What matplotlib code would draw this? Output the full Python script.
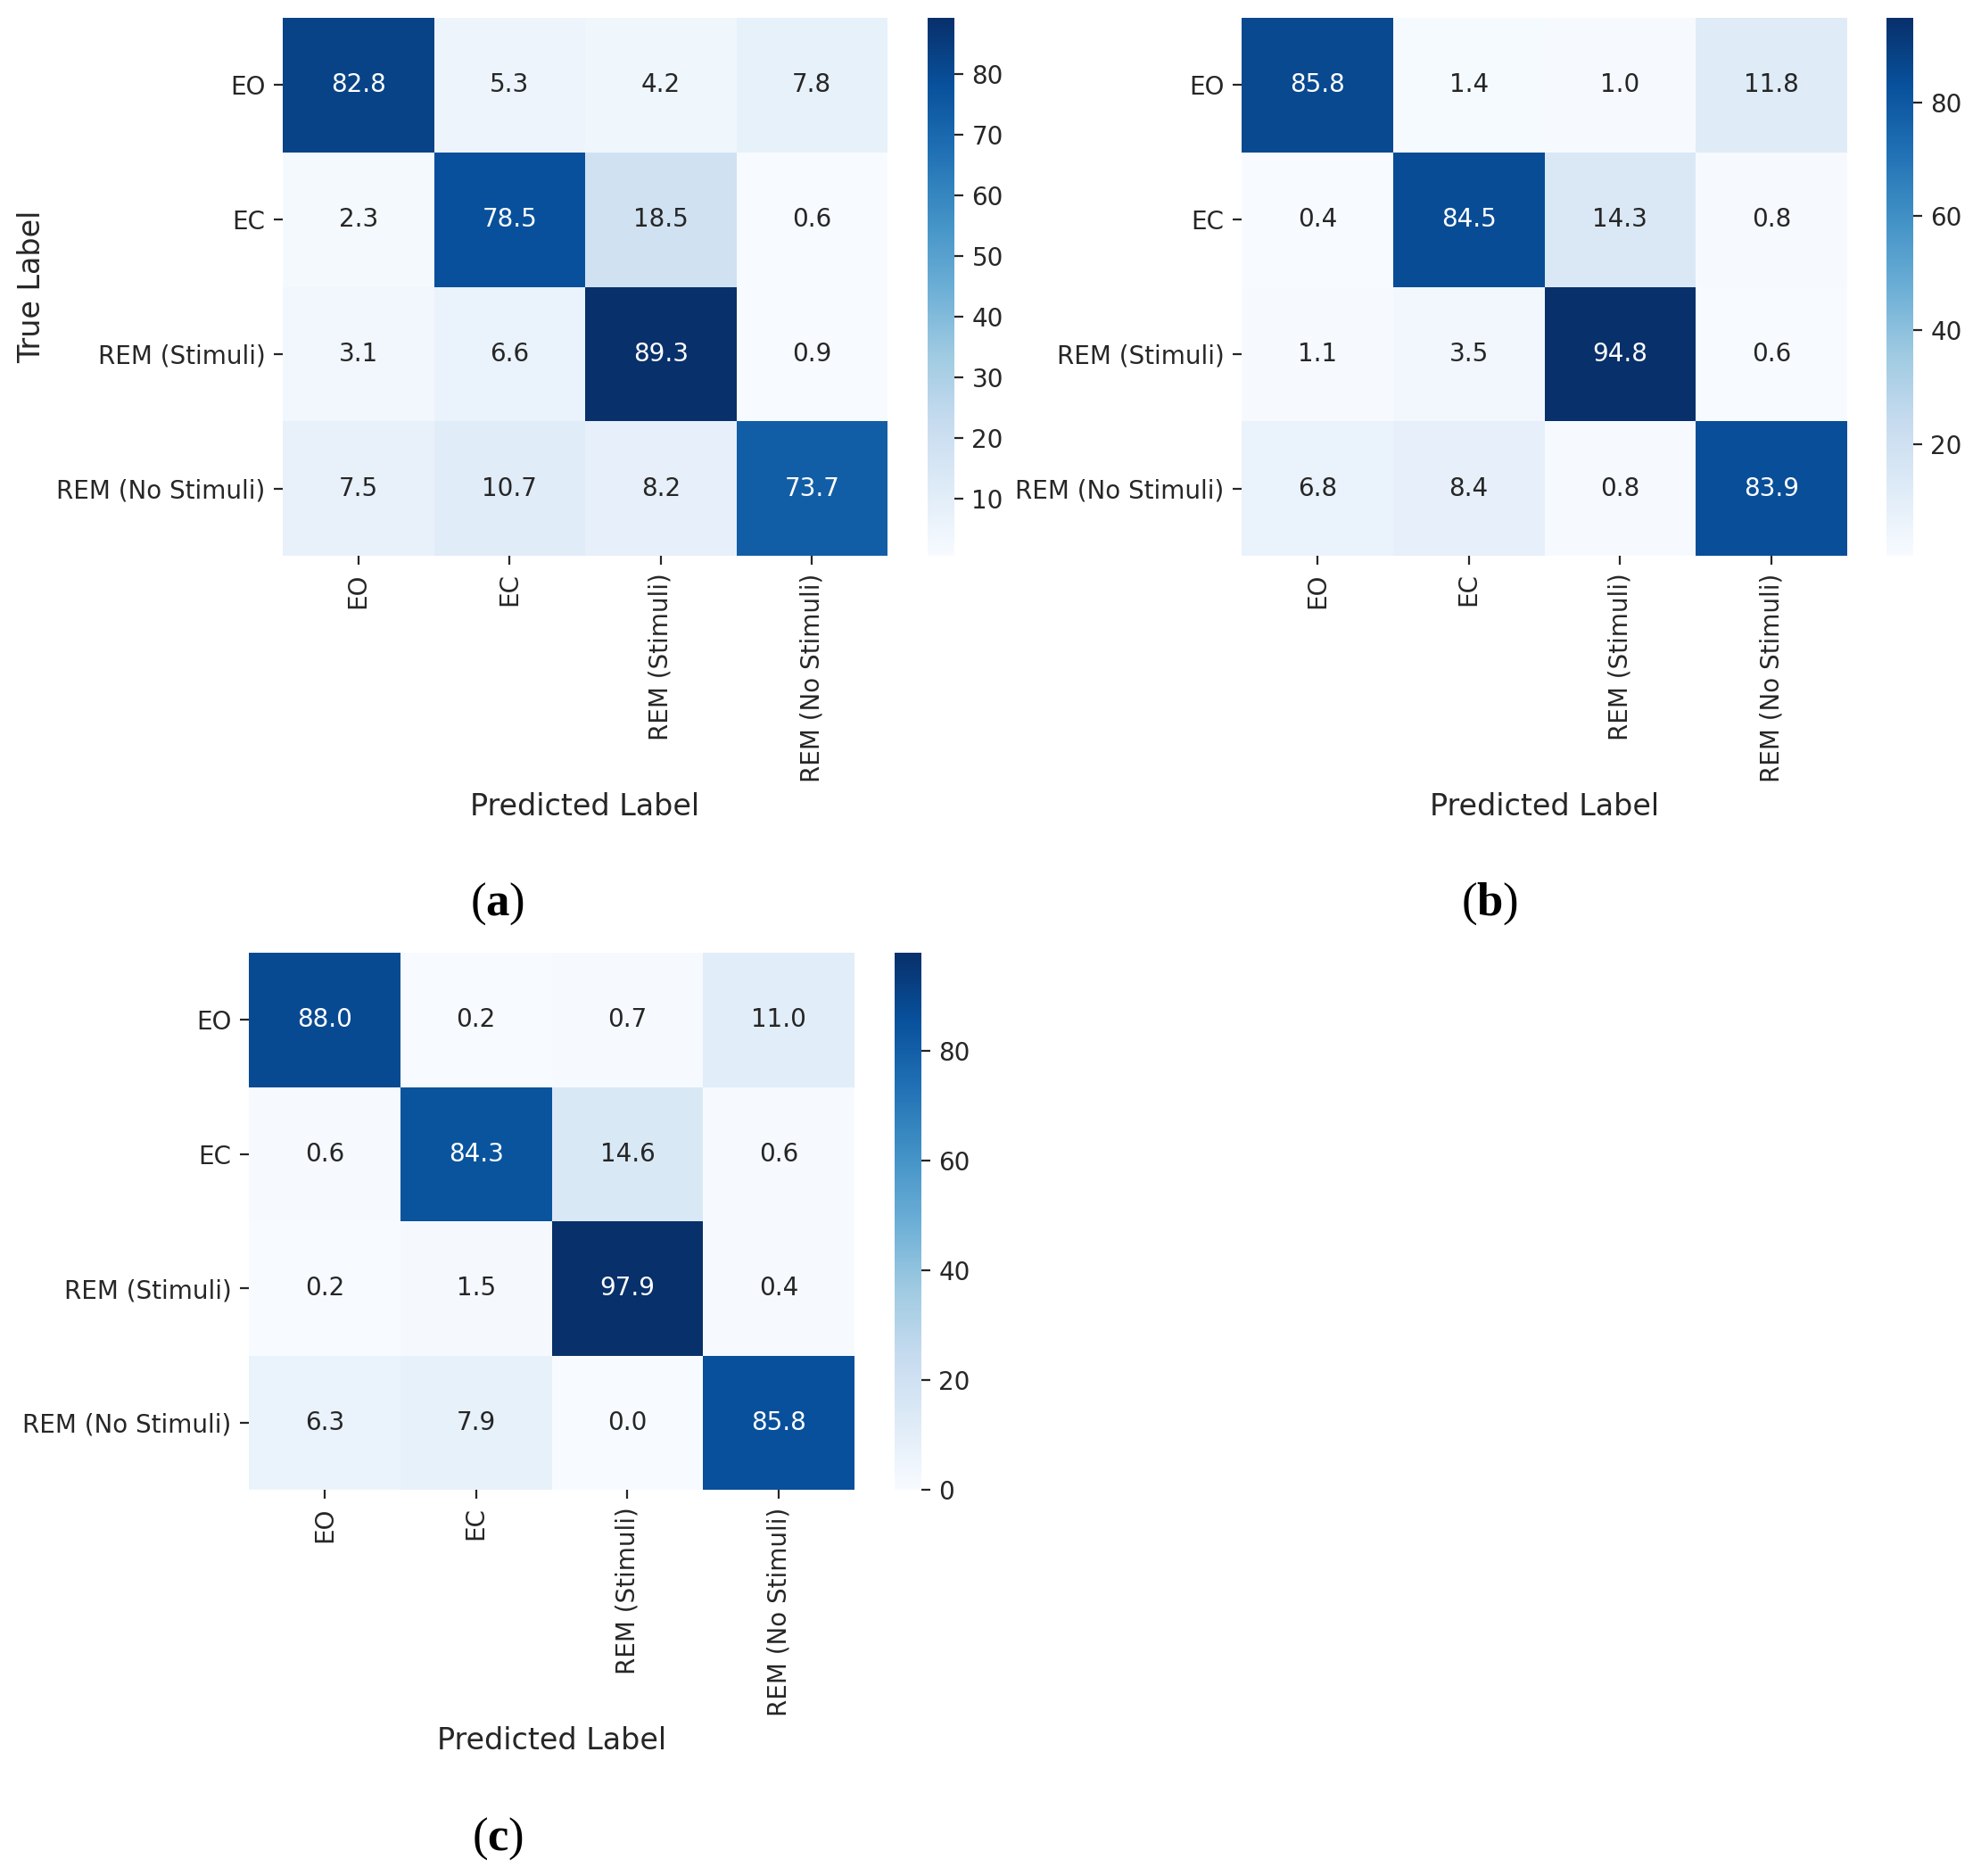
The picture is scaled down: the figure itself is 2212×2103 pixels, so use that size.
import numpy as np
import matplotlib
matplotlib.use("Agg")
import matplotlib.pyplot as plt

plt.rcParams["mathtext.fontset"] = "custom"
plt.rcParams["mathtext.rm"] = "Liberation Serif"
plt.rcParams["mathtext.bf"] = "Liberation Serif:bold"

# class names (rows = true, columns = predicted)
classes = ["EO", "EC", "REM (Stimuli)", "REM (No Stimuli)"]

# confusion matrices in percent
cm_a = [[82.8, 5.3, 4.2, 7.8],
        [2.3, 78.5, 18.5, 0.6],
        [3.1, 6.6, 89.3, 0.9],
        [7.5, 10.7, 8.2, 73.7]]
cm_b = [[85.8, 1.4, 1.0, 11.8],
        [0.4, 84.5, 14.3, 0.8],
        [1.1, 3.5, 94.8, 0.6],
        [6.8, 8.4, 0.8, 83.9]]
cm_c = [[88.0, 0.2, 0.7, 11.0],
        [0.6, 84.3, 14.6, 0.6],
        [0.2, 1.5, 97.9, 0.4],
        [6.3, 7.9, 0.0, 85.8]]

cbar_ticks_a = [10, 20, 30, 40, 50, 60, 70, 80]
cbar_ticks_b = [20, 40, 60, 80]
cbar_ticks_c = [0, 20, 40, 60, 80]

captions = ["a", "b", "c"]

W, H = 2212, 2103
fig = plt.figure(figsize=(W / 200, H / 200), dpi=200)


def px(x0, y1, w, h):
    # pixel box (left, bottom-from-top) -> figure fraction
    return [x0 / W, 1 - y1 / H, w / W, h / H]


def heatmap(ax, cax, cm, ticks, ylabel=True):
    data = np.array(cm)
    vmin, vmax = data.min(), data.max()
    cmap = plt.get_cmap("Blues")
    mesh = ax.pcolormesh(np.arange(5), np.arange(5), data, cmap=cmap,
                         vmin=vmin, vmax=vmax)
    ax.set_xlim(0, 4)
    ax.set_ylim(4, 0)
    for s in ax.spines.values():
        s.set_visible(False)
    for i in range(4):
        for j in range(4):
            v = data[i, j]
            rgb = np.array(cmap((v - vmin) / (vmax - vmin))[:3])
            rgb = np.where(rgb <= .03928, rgb / 12.92, ((rgb + .055) / 1.055) ** 2.4)
            lum = rgb.dot([.2126, .7152, .0722])
            ax.text(j + 0.5, i + 0.5, f"{v:.1f}", ha="center", va="center",
                    fontsize=10, color=".15" if lum > .408 else "w")
    ax.set_xticks(np.arange(4) + 0.5)
    ax.set_yticks(np.arange(4) + 0.5)
    ax.set_xticklabels(classes, rotation=90)
    ax.set_yticklabels(classes, rotation=0)
    ax.tick_params(colors=".15", labelcolor=".15")
    ax.set_xlabel("Predicted Label", fontsize=12, color=".15")
    if ylabel:
        ax.set_ylabel("True Label", fontsize=12, color=".15")
    cb = fig.colorbar(mesh, cax=cax)
    cb.outline.set_visible(False)
    cb.set_ticks(ticks)
    cb.ax.tick_params(labelsize=10, colors=".15", labelcolor=".15")


ax_a = fig.add_axes(px(317, 623, 678, 603))
cax_a = fig.add_axes(px(1040, 623, 30, 603))
heatmap(ax_a, cax_a, cm_a, cbar_ticks_a, ylabel=True)

ax_b = fig.add_axes(px(1392, 623, 679, 603))
cax_b = fig.add_axes(px(2115, 623, 30, 603))
heatmap(ax_b, cax_b, cm_b, cbar_ticks_b, ylabel=False)

ax_c = fig.add_axes(px(279, 1670, 679, 602))
cax_c = fig.add_axes(px(1003, 1670, 30, 602))
heatmap(ax_c, cax_c, cm_c, cbar_ticks_c, ylabel=False)

cap_font = dict(fontsize=19, fontfamily="Liberation Serif",
                ha="center", va="center")
fig.text(558 / W, 1 - 1013 / H, "($\\mathbf{%s}$)" % captions[0], **cap_font)
fig.text(1670 / W, 1 - 1013 / H, "($\\mathbf{%s}$)" % captions[1], **cap_font)
fig.text(558 / W, 1 - 2061 / H, "($\\mathbf{%s}$)" % captions[2], **cap_font)

fig.savefig("out.png", dpi=200)
